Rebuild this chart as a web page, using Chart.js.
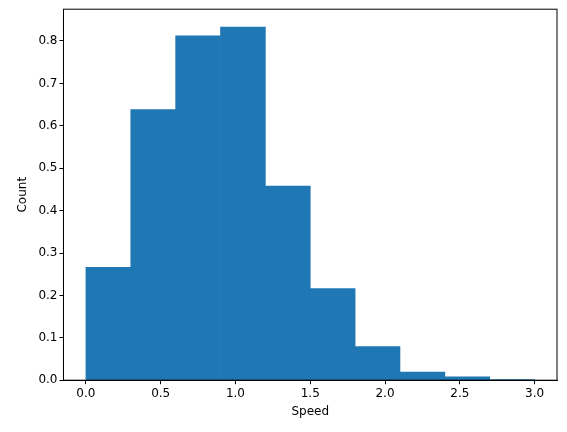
<!DOCTYPE html>
<html><head><script src="https://cdn.jsdelivr.net/npm/chart.js"></script>
<style>body{margin:0;background:#fff}#w{width:567px;height:432px}</style></head>
<body><div id="w"><canvas id="c"></canvas></div>
<script>
const binCenters=[0.15,0.45,0.75,1.05,1.35,1.65,1.95,2.25,2.55,2.85];
const counts=[0.266,0.638,0.812,0.833,0.458,0.216,0.079,0.019,0.008,0.001];
const xTicks=[0,0.5,1,1.5,2,2.5,3];
const yTicks=[0,0.1,0.2,0.3,0.4,0.5,0.6,0.7,0.8];
Chart.defaults.font.family='DejaVu Sans';
Chart.defaults.font.size=12;
Chart.defaults.color='#000';
new Chart(document.getElementById('c'),{
type:'bar',
data:{datasets:[{data:binCenters.map((x,i)=>({x:x,y:counts[i]})),backgroundColor:'#1f77b4',barPercentage:1,categoryPercentage:1,borderWidth:0}]},
options:{responsive:true,maintainAspectRatio:false,animation:false,
layout:{padding:{left:12,right:10,top:8,bottom:9}},
plugins:{legend:{display:false},tooltip:{enabled:false}},
scales:{
x:{type:'linear',offset:false,min:-0.15,max:3.15,afterBuildTicks:a=>{a.ticks=xTicks.map(v=>({value:v}))},
ticks:{callback:v=>v.toFixed(1),maxRotation:0,padding:2},
grid:{offset:false,drawOnChartArea:false,tickLength:4,color:'#000'},border:{color:'#000'},
title:{display:true,text:'Speed',padding:{top:2}}},
y:{min:0,max:0.875,afterBuildTicks:a=>{a.ticks=yTicks.map(v=>({value:v}))},
ticks:{callback:v=>v.toFixed(1),padding:2},
grid:{drawOnChartArea:false,tickLength:4,color:'#000'},border:{color:'#000'},
title:{display:true,text:'Count',padding:{bottom:6}}}
}},
plugins:[{id:'frame',afterDraw(c){const a=c.chartArea,x=c.ctx;x.save();x.strokeStyle='#000';x.lineWidth=1;x.strokeRect(a.left,a.top,a.right-a.left,a.bottom-a.top);x.restore();}}]
});
</script></body></html>
